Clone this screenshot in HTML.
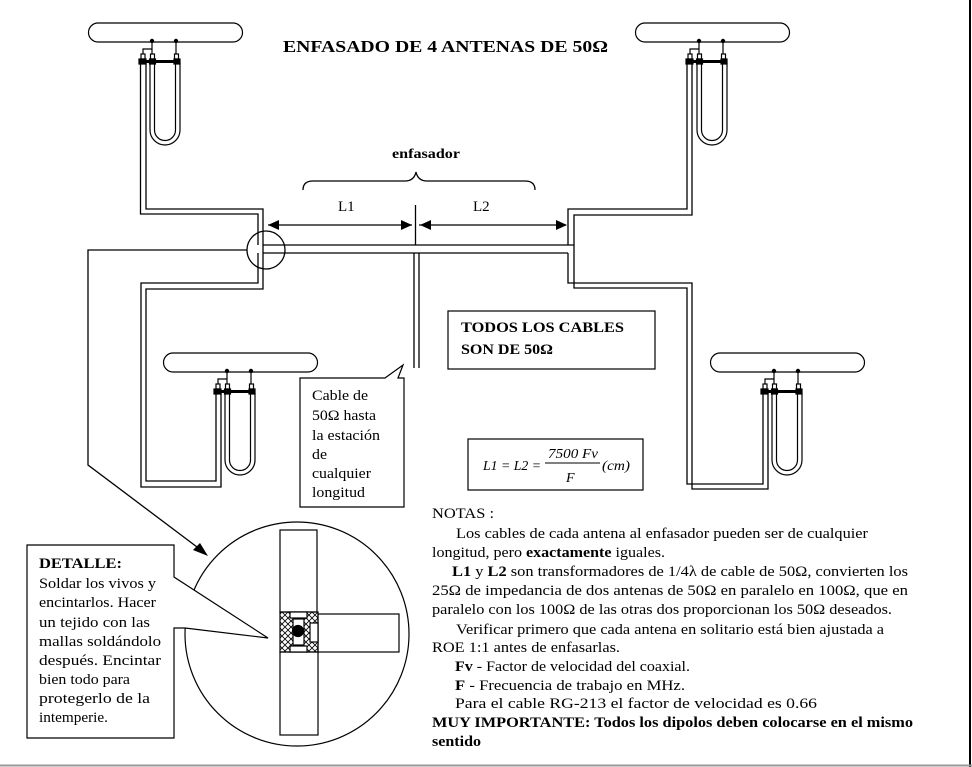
<!DOCTYPE html>
<html><head><meta charset="utf-8"><style>
body{margin:0;background:#fff}
svg{display:block}
text{font-family:"Liberation Serif",serif;fill:#000}
</style></head><body>
<svg width="972" height="767" viewBox="0 0 972 767" xmlns="http://www.w3.org/2000/svg">
<defs>
<pattern id="hx" width="6" height="6" patternUnits="userSpaceOnUse">
<path d="M0,0L6,6M6,0L0,6" stroke="#000" stroke-width="0.8"/>
</pattern>
<g id="ant" fill="none" stroke="#000" stroke-width="1.2">
<path d="M98,23 H233 A9.5,9.5 0 0 1 233,42 H98 A9.5,9.5 0 0 1 98,23 Z" fill="#fff"/>
<circle cx="152" cy="41" r="1.6" fill="#000"/>
<circle cx="176" cy="41" r="1.6" fill="#000"/>
<path d="M152,41 V55 M176,41 V55 M152,49 H143 V55"/>
<rect x="141" y="54" width="4" height="5" fill="#fff"/>
<rect x="150.5" y="54" width="4" height="5" fill="#fff"/>
<rect x="174.5" y="54" width="4" height="5" fill="#fff"/>
<path d="M140,61.5 H180" stroke-width="3"/>
<rect x="139" y="59" width="7" height="5" fill="#000"/>
<rect x="149.5" y="59" width="6" height="5" fill="#000"/>
<rect x="174" y="59" width="6" height="5" fill="#000"/>
<path d="M150,63 V130 A15,15 0 0 0 180,130 V63"/>
<path d="M154.5,63 V130 A10.5,10.5 0 0 0 175.5,130 V63"/>
</g>
</defs>
<rect x="0" y="0" width="972" height="767" fill="#fff"/>
<line x1="970" y1="0" x2="970" y2="767" stroke="#000" stroke-width="2"/>
<line x1="0" y1="765.5" x2="972" y2="765.5" stroke="#999" stroke-width="2"/>

<use href="#ant"/>
<use href="#ant" transform="translate(547,0)"/>
<use href="#ant" transform="translate(75,330)"/>
<use href="#ant" transform="translate(622,330)"/>

<g fill="none" stroke="#000" stroke-width="1.3">
<path d="M140.5,63 V214 H258 V245 M258,253 V283 H141 V487 H221 V393"/>
<path d="M146,63 V209 H263 V289 H146 V481 H216 V393"/>
<path d="M692,63 V215 H574 V288 H687 V484 H763 V393"/>
<path d="M687,63 V209 H568 V245 M568,253 V283 H692 V489 H768 V393"/>
<path d="M263,245 H574 M263,253 H568"/>
<path d="M414,253 V368 M419,253 V368"/>
<path d="M415.5,205 V245"/>
<path d="M268,225 H412 M419,225 H566"/>
<circle cx="266" cy="250" r="19"/>
<path d="M247,250 H88 V465 L205,553"/>
<path d="M303,190 Q303,181 313,181 H405 Q414,181 416,172 Q418,181 427,181 H525 Q535,181 535,190"/>
</g>
<g fill="#000">
<polygon points="268,225 279,220 279,230"/>
<polygon points="412,225 401,220 401,230"/>
<polygon points="420,225 431,220 431,230"/>
<polygon points="567,225 556,220 556,230"/>
<polygon points="208,556 193,550 200,543"/>
</g>

<circle cx="297" cy="634" r="112" fill="#fff" stroke="#000" stroke-width="1.2"/>
<g stroke="#000" stroke-width="1.2">
<rect x="280" y="530" width="37" height="82" fill="#fff"/>
<rect x="280" y="652" width="38" height="83" fill="#fff"/>
<rect x="318" y="614" width="81" height="38" fill="#fff"/>
<rect x="280" y="612" width="38" height="40" fill="url(#hx)"/>
<rect x="290" y="612" width="17" height="6" fill="#fff"/>
<rect x="290" y="646" width="17" height="6" fill="#fff"/>
<rect x="293" y="619" width="11" height="26" fill="#fff"/>
<rect x="310" y="623" width="8" height="19" fill="#fff"/>
<circle cx="298" cy="631" r="5.5" fill="#000"/>
</g>

<polygon points="27,545 174,545 174,577 268,638 185,628 174,628 174,738 27,738" fill="#fff" stroke="#000" stroke-width="1.2"/>
<polygon points="300,378 385,378 403,365 398,378 404,378 404,507 300,507" fill="#fff" stroke="#000" stroke-width="1.2"/>
<rect x="448" y="311" width="207" height="58" fill="#fff" stroke="#000" stroke-width="1.2"/>
<rect x="468" y="439" width="175" height="51" fill="#fff" stroke="#000" stroke-width="1.2"/>

<text x="283" y="52" font-size="17" font-weight="bold" textLength="325" lengthAdjust="spacingAndGlyphs">ENFASADO DE 4 ANTENAS DE 50Ω</text>
<text x="392" y="158" font-size="14" font-weight="bold" textLength="68" lengthAdjust="spacingAndGlyphs">enfasador</text>
<text x="338" y="211" font-size="15">L1</text>
<text x="473" y="211" font-size="15">L2</text>
<text x="461" y="332" font-size="15" font-weight="bold" textLength="163" lengthAdjust="spacingAndGlyphs">TODOS LOS CABLES</text>
<text x="461" y="354" font-size="15" font-weight="bold" textLength="92" lengthAdjust="spacingAndGlyphs">SON DE 50Ω</text>
<g font-size="15">
<text x="312" y="400" textLength="56" lengthAdjust="spacingAndGlyphs">Cable de</text>
<text x="312" y="420" textLength="64" lengthAdjust="spacingAndGlyphs">50Ω hasta</text>
<text x="312" y="440" textLength="68" lengthAdjust="spacingAndGlyphs">la estación</text>
<text x="312" y="459" textLength="15" lengthAdjust="spacingAndGlyphs">de</text>
<text x="312" y="478" textLength="59" lengthAdjust="spacingAndGlyphs">cualquier</text>
<text x="312" y="497" textLength="53" lengthAdjust="spacingAndGlyphs">longitud</text>
</g>
<g font-size="15">
<text x="39" y="568" font-weight="bold" textLength="83" lengthAdjust="spacingAndGlyphs">DETALLE:</text>
<text x="39" y="588" textLength="117" lengthAdjust="spacingAndGlyphs">Soldar los vivos y</text>
<text x="39" y="607" textLength="117" lengthAdjust="spacingAndGlyphs">encintarlos. Hacer</text>
<text x="39" y="627" textLength="111" lengthAdjust="spacingAndGlyphs">un tejido con  las</text>
<text x="39" y="646" textLength="122" lengthAdjust="spacingAndGlyphs">mallas soldándolo</text>
<text x="39" y="665" textLength="122" lengthAdjust="spacingAndGlyphs">después. Encintar</text>
<text x="39" y="684" textLength="91" lengthAdjust="spacingAndGlyphs">bien todo para</text>
<text x="39" y="703" textLength="111" lengthAdjust="spacingAndGlyphs">protegerlo de la</text>
<text x="39" y="722" textLength="69" lengthAdjust="spacingAndGlyphs">intemperie.</text>
</g>
<g font-size="14" font-style="italic">
<text x="483" y="470" textLength="58" lengthAdjust="spacingAndGlyphs">L1 = L2 =</text>
<text x="548" y="458" textLength="50" lengthAdjust="spacingAndGlyphs">7500  Fv</text>
<line x1="545" y1="463" x2="600" y2="463" stroke="#000" stroke-width="1"/>
<text x="566" y="482">F</text>
<text x="602" y="470" textLength="28" lengthAdjust="spacingAndGlyphs">(cm)</text>
</g>
<g font-size="15">
<text x="432" y="518" textLength="62" lengthAdjust="spacingAndGlyphs">NOTAS :</text>
<text x="456" y="538" textLength="412" lengthAdjust="spacingAndGlyphs">Los cables de cada antena al enfasador pueden ser de cualquier</text>
<text x="432" y="557" textLength="233" lengthAdjust="spacingAndGlyphs">longitud, pero <tspan font-weight="bold">exactamente</tspan> iguales.</text>
<text x="452" y="576" textLength="456" lengthAdjust="spacingAndGlyphs"><tspan font-weight="bold">L1</tspan> y <tspan font-weight="bold">L2</tspan> son transformadores de 1/4λ de cable de 50Ω, convierten los</text>
<text x="432" y="595" textLength="476" lengthAdjust="spacingAndGlyphs">25Ω de impedancia de dos antenas de 50Ω en paralelo en 100Ω, que en</text>
<text x="432" y="614" textLength="460" lengthAdjust="spacingAndGlyphs">paralelo con los 100Ω de las otras dos proporcionan los 50Ω deseados.</text>
<text x="456" y="634" textLength="428" lengthAdjust="spacingAndGlyphs">Verificar primero que cada antena en solitario está bien ajustada a</text>
<text x="432" y="652" textLength="188" lengthAdjust="spacingAndGlyphs">ROE 1:1 antes de enfasarlas.</text>
<text x="455" y="671" textLength="235" lengthAdjust="spacingAndGlyphs"><tspan font-weight="bold">Fv</tspan> - Factor de velocidad del coaxial.</text>
<text x="455" y="690" textLength="230" lengthAdjust="spacingAndGlyphs"><tspan font-weight="bold">F</tspan>   - Frecuencia de trabajo en MHz.</text>
<text x="455" y="708" textLength="362" lengthAdjust="spacingAndGlyphs">Para el cable RG-213 el factor de velocidad es 0.66</text>
<text x="432" y="727" font-weight="bold" textLength="481" lengthAdjust="spacingAndGlyphs">MUY IMPORTANTE: Todos los dipolos deben colocarse en el mismo</text>
<text x="432" y="746" font-weight="bold" textLength="49" lengthAdjust="spacingAndGlyphs">sentido</text>
</g>
</svg>
</body></html>
